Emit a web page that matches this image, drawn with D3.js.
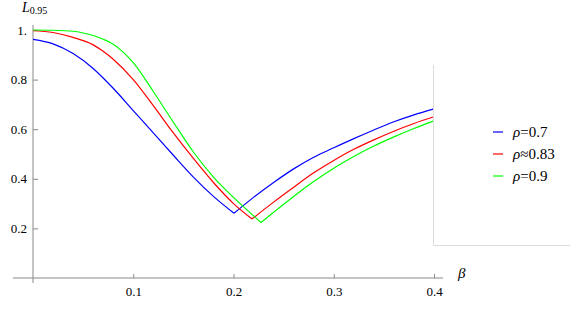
<html>
<head>
<meta charset="utf-8">
<script src="https://cdn.jsdelivr.net/npm/d3@7"></script>
</head>
<body style="margin:0">
<svg id="chart" width="582" height="309"></svg>
<script>
// values: [beta, L]
const rho07 = [
  [0, 0.962], [0.02, 0.944], [0.04, 0.905], [0.06, 0.845], [0.08, 0.765],
  [0.1, 0.675], [0.12, 0.585], [0.14, 0.495], [0.16, 0.407], [0.18, 0.329],
  [0.2005, 0.261],
  [0.22, 0.325], [0.24, 0.385], [0.26, 0.440], [0.28, 0.487], [0.30, 0.525],
  [0.32, 0.562], [0.34, 0.597], [0.36, 0.630], [0.38, 0.658], [0.40, 0.682]
];
const rho083 = [
  [0, 0.997], [0.02, 0.990], [0.04, 0.970], [0.06, 0.940], [0.07, 0.914],
  [0.08, 0.882], [0.1, 0.800], [0.12, 0.695], [0.14, 0.585], [0.16, 0.482],
  [0.18, 0.385], [0.2, 0.300], [0.2185, 0.238],
  [0.24, 0.306], [0.26, 0.366], [0.28, 0.424], [0.30, 0.474], [0.32, 0.519],
  [0.34, 0.557], [0.36, 0.592], [0.38, 0.623], [0.40, 0.650]
];
const rho09 = [
  [0, 1.0], [0.02, 0.999], [0.04, 0.995], [0.05, 0.988], [0.06, 0.978],
  [0.07, 0.963], [0.08, 0.943], [0.09, 0.911], [0.1, 0.868], [0.12, 0.752],
  [0.14, 0.628], [0.16, 0.508], [0.18, 0.407], [0.2, 0.325], [0.2275, 0.224],
  [0.24, 0.265], [0.26, 0.329], [0.28, 0.389], [0.30, 0.443], [0.32, 0.490],
  [0.34, 0.532], [0.36, 0.569], [0.38, 0.603], [0.40, 0.634]
];

const seriesLabels = ['=0.7', '\u22480.83', '=0.9'];
const seriesColors = ['#0000ff', '#ff0000', '#00ff00'];
const xTicks = [0.1, 0.2, 0.3, 0.4];
const yTicks = [0.2, 0.4, 0.6, 0.8, 1.0];

const FONT = 'Liberation Serif';
const svg = d3.select('#chart').attr('font-family', FONT);
const x = d3.scaleLinear().domain([0, 0.4]).range([33, 434]);
const y = d3.scaleLinear().domain([0, 1]).range([278, 30]);
const axisColor = '#888';

// axes lines (Mathematica style, crossing at origin)
svg.append('line')
  .attr('x1', x(-0.02)).attr('x2', x(0.409))
  .attr('y1', y(0)).attr('y2', y(0))
  .attr('stroke', axisColor).attr('stroke-width', 1);
svg.append('line')
  .attr('x1', x(0)).attr('x2', x(0))
  .attr('y1', y(-0.02)).attr('y2', y(1.02))
  .attr('stroke', axisColor).attr('stroke-width', 1);

const xAxis = d3.axisBottom(x)
  .tickValues(xTicks)
  .tickFormat(d3.format('.1f'))
  .tickSizeInner(-4).tickSizeOuter(0).tickPadding(9);
const gx = svg.append('g').attr('transform', `translate(0,${y(0)})`).call(xAxis);
gx.select('.domain').remove();
gx.selectAll('line').attr('stroke', axisColor);

const yAxis = d3.axisLeft(y)
  .tickValues(yTicks)
  .tickFormat(d => d === 1 ? '1.' : d3.format('.1f')(d))
  .tickSizeInner(-5).tickSizeOuter(0).tickPadding(6);
const gy = svg.append('g').attr('transform', `translate(${x(0)},0)`).call(yAxis);
gy.select('.domain').remove();
gy.selectAll('line').attr('stroke', axisColor);

[gx, gy].forEach(g => {
  g.attr('font-family', FONT).attr('font-size', 13);
  g.selectAll('text').attr('fill', '#000');
});

// axis labels
const yl = svg.append('text').attr('x', 22).attr('y', 12)
  .attr('font-family', FONT).attr('font-size', 14);
yl.append('tspan').attr('font-style', 'italic').text('L');
yl.append('tspan').attr('dy', 2).attr('font-size', 10).text('0.95');
svg.append('text').attr('x', 458).attr('y', 278)
  .attr('font-family', FONT).attr('font-size', 15)
  .attr('font-style', 'italic').text('\u03b2');

// curves: draw each branch on its own so the kink at the minimum stays sharp
const line = d3.line().x(d => x(d[0])).y(d => y(d[1])).curve(d3.curveMonotoneX);
[rho07, rho083, rho09].forEach((data, i) => {
  const k = d3.minIndex(data, d => d[1]);
  [data.slice(0, k + 1), data.slice(k)].forEach(part => {
    svg.append('path')
      .attr('d', line(part))
      .attr('fill', 'none')
      .attr('stroke', seriesColors[i])
      .attr('stroke-width', 1.2);
  });
});

// legend
const lg = svg.append('g');
lg.append('path')
  .attr('d', 'M433.5,65 V245.5 H570')
  .attr('fill', 'none').attr('stroke', '#dcdcdc');
seriesLabels.forEach((lab, i) => {
  const cy = 132 + i * 22;
  lg.append('line')
    .attr('x1', 493).attr('x2', 503).attr('y1', cy).attr('y2', cy)
    .attr('stroke', seriesColors[i]).attr('stroke-width', 1.2);
  const t = lg.append('text').attr('x', 513).attr('y', cy + 5)
    .attr('font-family', FONT).attr('font-size', 15);
  t.append('tspan').attr('font-style', 'italic').text('\u03c1');
  t.append('tspan').text(lab);
});
</script>
</body>
</html>
